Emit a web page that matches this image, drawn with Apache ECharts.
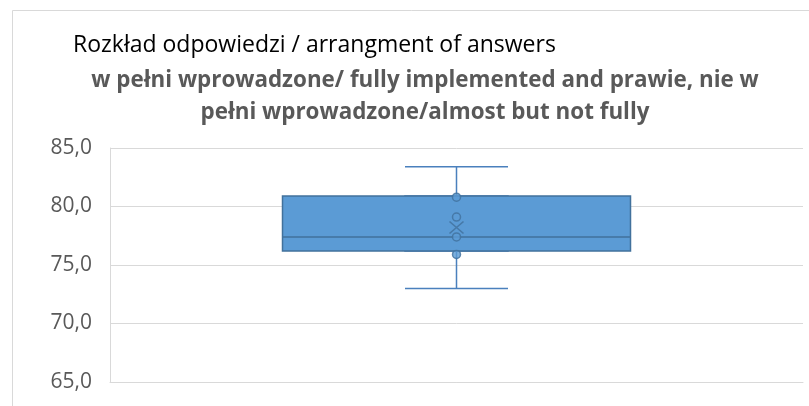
<!DOCTYPE html>
<html>
<head>
<meta charset="utf-8">
<script src="https://cdn.jsdelivr.net/npm/echarts@6/dist/echarts.min.js"></script>
<style>
  html, body { margin: 0; padding: 0; background: #fff; }
  #chart { width: 809px; height: 406px; }
</style>
</head>
<body>
<div id="chart"></div>
<script>
// values
var categories = ['1'];
var whiskerLow = 73.0;
var q1 = 76.2;
var median = 77.4;
var q3 = 80.9;
var whiskerHigh = 83.4;
var meanValue = 78.2;
var innerPoints = [80.8, 79.1, 77.4, 75.9];
var yTicks = { min: 65, max: 85, step: 5 };

var FONT = '"Open Sans", sans-serif';
var boxFill = '#5b9bd5';
var boxLine = '#41719c';
var grid = '#d9d9d9';

var chart = echarts.init(document.getElementById('chart'));

chart.setOption({
  animation: false,
  backgroundColor: '#fff',
  graphic: [{
    type: 'rect',
    shape: { x: 12.5, y: 10.5, width: 900, height: 500 },
    style: { fill: 'none', stroke: grid, lineWidth: 1 },
    silent: true
  }],
  title: [{
    text: 'Rozkład odpowiedzi / arrangment of answers',
    left: 68, top: 29,
    textStyle: { fontFamily: FONT, fontSize: 23, fontWeight: 'normal', color: '#000' }
  }, {
    text: 'w pełni wprowadzone/ fully implemented and prawie, nie w\npełni wprowadzone/almost but not fully',
    left: 420, top: 60,
    textAlign: 'center',
    textStyle: { fontFamily: FONT, fontSize: 22.4, fontWeight: 'bold', color: '#595959', lineHeight: 32, align: 'center' }
  }],
  grid: { left: 110, right: 6, top: 148, bottom: 24 },
  xAxis: [{
    type: 'category',
    data: categories,
    axisLine: { show: true, lineStyle: { color: grid } },
    axisTick: { show: false },
    axisLabel: { show: false },
    splitLine: { show: false }
  }, {
    type: 'category',
    data: categories,
    show: false
  }],
  yAxis: {
    type: 'value',
    min: yTicks.min, max: yTicks.max, interval: yTicks.step,
    axisLine: { show: true, lineStyle: { color: grid } },
    axisTick: { show: false },
    splitLine: { lineStyle: { color: grid } },
    axisLabel: {
      margin: 18,
      fontFamily: FONT, fontSize: 21, color: '#595959',
      formatter: function (v) { return v.toFixed(1).replace('.', ','); }
    }
  },
  series: [{
    // whiskers (narrow, drawn under the box)
    type: 'boxplot',
    xAxisIndex: 1,
    z: 1,
    boxWidth: [103, 103],
    itemStyle: { color: boxFill, borderColor: '#4a80bd', borderWidth: 1.5 },
    data: [[whiskerLow, q1, median, q3, whiskerHigh]]
  }, {
    // main box
    type: 'boxplot',
    xAxisIndex: 0,
    z: 2,
    boxWidth: [348, 348],
    itemStyle: { color: boxFill, borderColor: boxLine, borderWidth: 1.5 },
    data: [[q1, q1, median, q3, q3]]
  }, {
    type: 'scatter',
    xAxisIndex: 0,
    z: 3,
    symbol: 'circle',
    symbolSize: 8,
    itemStyle: { color: boxFill, borderColor: boxLine, borderWidth: 1.5 },
    data: innerPoints.map(function (v) { return [categories[0], v]; })
  }, {
    type: 'scatter',
    xAxisIndex: 0,
    z: 3,
    symbol: 'path://M0,0L10,8M10,0L0,8',
    symbolSize: [14, 12],
    itemStyle: { color: 'none', borderColor: boxLine, borderWidth: 1.5 },
    data: [[categories[0], meanValue]]
  }]
});
</script>
</body>
</html>
